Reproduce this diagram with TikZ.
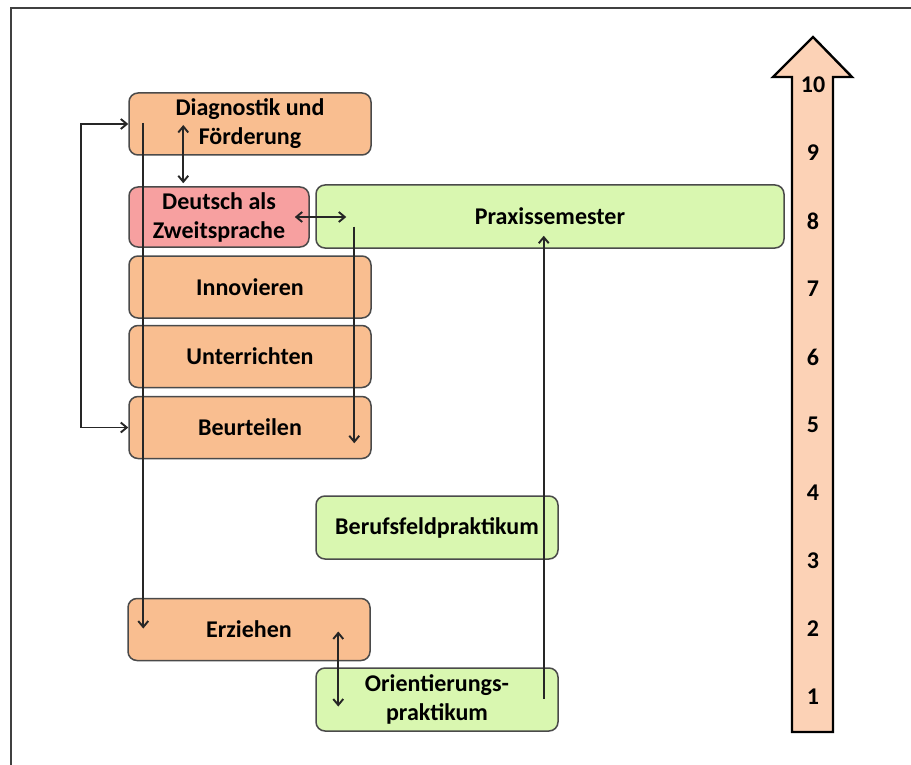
\documentclass[tikz,border=0pt]{standalone}
\usepackage{fontspec}
\setmainfont{Carlito}
\usetikzlibrary{arrows.meta}

\definecolor{boxorange}{HTML}{F9BE90}
\definecolor{boxred}{HTML}{F7A0A0}
\definecolor{boxgreen}{HTML}{D9F7B0}
\definecolor{arrowpeach}{HTML}{FCD2B6}
\definecolor{boxline}{HTML}{4A4A4A}

\tikzset{
	module/.style={draw=boxline, line width=1.5pt, rounded corners=9pt,
		minimum width=242pt, minimum height=62pt, inner sep=2pt, align=center,
		font=\fontsize{24}{29}\selectfont\bfseries},
	schoolbox/.style={module, fill=boxorange},
	dazbox/.style={module, fill=boxred, minimum width=180pt, minimum height=60pt},
	practicebox/.style={module, fill=boxgreen, minimum height=63pt},
	link/.style={line width=1.9pt, draw=black!85, arrows={-Straight Barb[length=6pt,width=10pt]}},
	biglink/.style={link, arrows={Straight Barb[length=6pt,width=10pt]-Straight Barb[length=6pt,width=10pt]}},
	semester/.style={font=\fontsize{24}{28}\selectfont\bfseries, inner sep=0pt}
}

\begin{document}
\begin{tikzpicture}[x=1pt, y=-1pt]
		\useasboundingbox (0,0) rectangle (911,765);

		% Frame
		\draw[line width=1.5pt, black!75] (11,765) -- (11,8) -- (911,8);

		% Semester arrow
		\draw[line width=2.4pt, fill=arrowpeach, line join=miter]
			(813,37) -- (852,77) -- (833,77) -- (833,732) -- (792,732) -- (792,77) -- (773,77) -- cycle;
		\foreach \n in {1,...,10}
			\node[semester] (sem\n) at (813,{697-68*(\n-1)}) {\n};

		% School modules
		\node[schoolbox] (diag) at (250,124) {Diagnostik und\\Förderung};
		\node[dazbox] (daz) at (219,217) {Deutsch als\\Zweitsprache};
		\node[schoolbox] (innov) at (250,287) {Innovieren};
		\node[schoolbox] (unter) at (250,356.5) {Unterrichten};
		\node[schoolbox] (beurt) at (250,427.5) {Beurteilen};
		\node[schoolbox] (erz) at (249,629.5) {Erziehen};

		% Practical phases
		\node[practicebox, minimum width=468pt] (praxis) at (550,216.5) {Praxissemester};
		\node[practicebox] (beruf) at (437,527.5) {Berufsfeldpraktikum};
		\node[practicebox] (orient) at (437,699.5) {Orientierungs-\\praktikum};

		% Connections
		% -- loop on the left
		\draw[biglink] (beurt.west) -- ++(-47,0) |- (diag.west);
		\draw[link] ([xshift=15pt,yshift=1pt]diag.west) -- ([xshift=15pt,yshift=1pt]diag.west |- erz.center);
		\draw[biglink] ([xshift=55pt,yshift=-1pt]diag.west) -- ([xshift=55pt,yshift=3pt]diag.west |- daz.north);
		\draw[biglink] ([xshift=-15pt]daz.east) -- ([xshift=31pt]praxis.west |- daz.east);

		% -- practice semester and practica
		\draw[link] ([xshift=39pt,yshift=-10pt]praxis.west) -- ([xshift=39pt,yshift=16pt]praxis.west |- beurt.south);
		\draw[link] ([xshift=-15pt,yshift=1pt]orient.east) -- ([xshift=-15pt,yshift=13pt]orient.east |- praxis.south);
		\draw[biglink] ([xshift=23pt,yshift=-2pt]orient.west |- erz.center) -- ([xshift=23pt,yshift=-7pt]orient.west);
	\end{tikzpicture}
\end{document}
